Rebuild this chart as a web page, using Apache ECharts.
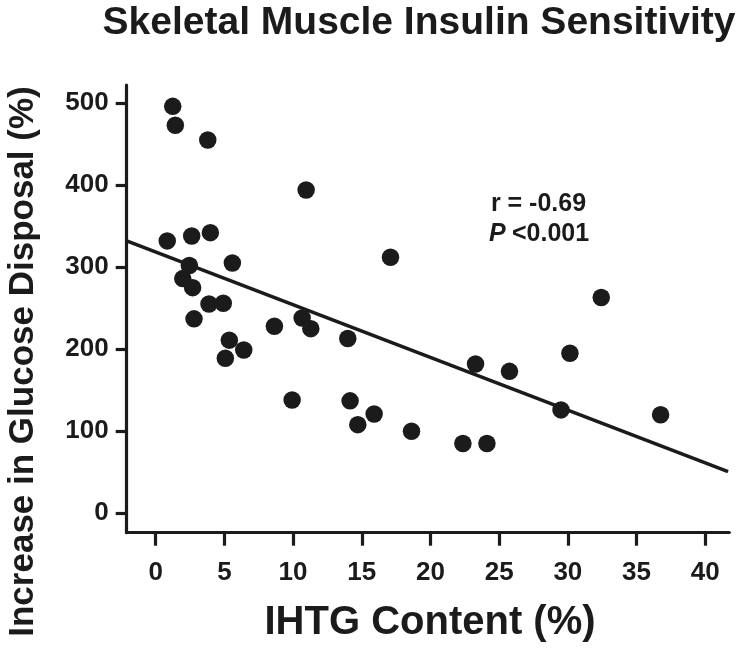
<!DOCTYPE html>
<html>
<head>
<meta charset="utf-8">
<script src="https://cdn.jsdelivr.net/npm/echarts@6/dist/echarts.min.js"></script>
<style>
html,body{margin:0;padding:0;background:#fff;}
#chart{width:754px;height:653px;}
</style>
</head>
<body>
<div id="chart"></div>
<script>
// IHTG content (%) for each subject
const ihtg = [1.24, 1.43, 3.79, 10.95, 0.84, 2.62, 3.98, 5.58, 2.45, 1.97, 2.69, 2.79, 3.88, 4.92, 5.36, 5.07, 6.41, 8.64, 10.66, 11.29, 9.93, 13.98, 14.15, 14.71, 15.9, 17.09, 18.62, 22.36, 24.11, 23.28, 25.75, 30.15, 29.5, 32.43, 36.75];
// Increase in glucose disposal (%)
const glucose = [496, 473, 455, 394, 332, 338, 342, 305, 302, 286, 275, 237, 255, 256, 211, 189, 199, 228, 238, 225, 138, 213, 137, 108, 121, 312, 100, 85, 85, 182, 173, 195, 126, 263, 120];
// regression line end points
const fitX = [-2.11, 41.66];
const fitY = [332, 50.7];
const xTicks = [0, 5, 10, 15, 20, 25, 30, 35, 40];
const yTicks = [0, 100, 200, 300, 400, 500];

const titleText = 'Skeletal Muscle Insulin Sensitivity';
const xTitle = 'IHTG Content (%)';
const yTitle = 'Increase in Glucose Disposal (%)';
const statR = 'r = -0.69';
const statP = '<0.001';

const ink = '#1b1b1b';
const font = '"Liberation Sans", Arial, Helvetica, sans-serif';

const points = ihtg.map((x, i) => [x, glucose[i]]);
const fitLine = fitX.map((x, i) => [x, fitY[i]]);

const chart = echarts.init(document.getElementById('chart'), null, {renderer: 'canvas'});
chart.setOption({
  animation: false,
  backgroundColor: '#ffffff',
  grid: {left: 126.7, right: 24.7, top: 85, bottom: 120.3, containLabel: false},
  xAxis: {
    type: 'value', min: -2.11, max: 41.75,
    splitLine: {show: false},
    axisLine: {onZero: false, lineStyle: {color: ink, width: 3.2}},
    axisTick: {show: true, length: 13, lineStyle: {color: ink, width: 3.2}, customValues: xTicks},
    axisLabel: {customValues: xTicks, margin: 27, color: ink, fontSize: 26, fontWeight: 'bold', fontFamily: font}
  },
  yAxis: {
    type: 'value', min: -23.7, max: 522,
    splitLine: {show: false},
    axisLine: {onZero: false, lineStyle: {color: ink, width: 3.2}},
    axisTick: {show: true, length: 11, lineStyle: {color: ink, width: 3.2}, customValues: yTicks},
    axisLabel: {customValues: yTicks, margin: 18, color: ink, fontSize: 26, fontWeight: 'bold', fontFamily: font}
  },
  series: [
    {
      type: 'line', data: fitLine, symbol: 'none', silent: true,
      lineStyle: {color: ink, width: 3.6}, z: 2
    },
    {
      type: 'scatter', data: points, symbol: 'circle', symbolSize: 17.5,
      itemStyle: {color: ink, opacity: 1}, z: 3
    }
  ],
  graphic: [
    {type: 'text', position: [419, 23], silent: true,
     style: {text: titleText, font: 'bold 39px ' + font, fill: ink, textAlign: 'center', textVerticalAlign: 'middle'}},
    {type: 'text', position: [430, 623],
     style: {text: xTitle, font: 'bold 40px ' + font, fill: ink, textAlign: 'center', textVerticalAlign: 'middle'}},
    {type: 'text', position: [23, 361.5], rotation: Math.PI / 2,
     style: {text: yTitle, font: 'bold 35px ' + font, fill: ink, textAlign: 'center', textVerticalAlign: 'middle'}},
    {type: 'text', position: [538.5, 204],
     style: {text: statR, font: 'bold 25px ' + font, fill: ink, textAlign: 'center', textVerticalAlign: 'middle'}},
    {type: 'text', position: [489, 234],
     style: {text: 'P', font: 'italic bold 25px ' + font, fill: ink, textAlign: 'left', textVerticalAlign: 'middle'}},
    {type: 'text', position: [512, 234],
     style: {text: statP, font: 'bold 25px ' + font, fill: ink, textAlign: 'left', textVerticalAlign: 'middle'}}
  ]
});
</script>
</body>
</html>
